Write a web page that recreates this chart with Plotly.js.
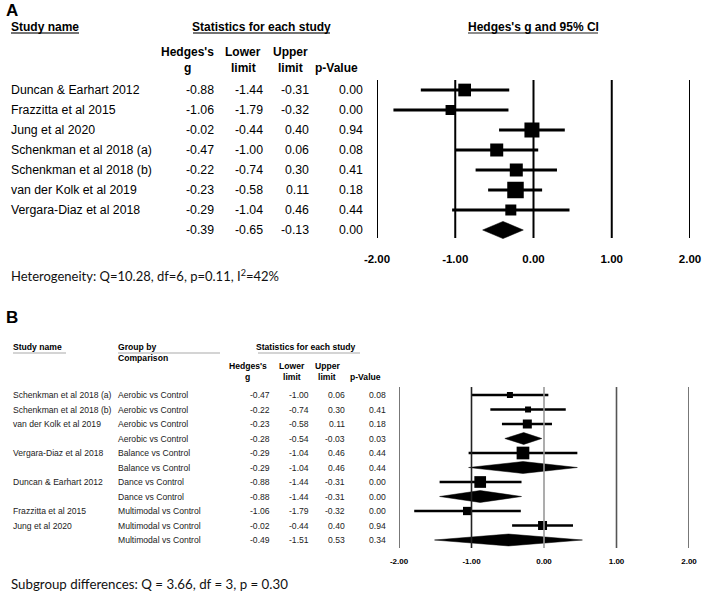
<!DOCTYPE html>
<html><head><meta charset="utf-8">
<script src="https://cdn.plot.ly/plotly-3.0.1.min.js"></script>
<style>html,body{margin:0;padding:0;background:#fff}#chart{width:705px;height:595px}</style>
</head><body><div id="chart"></div>
<script>
// ---------- Panel A data ----------
const studyA = ["Duncan & Earhart 2012","Frazzitta et al 2015","Jung et al 2020","Schenkman et al 2018 (a)","Schenkman et al 2018 (b)","van der Kolk et al 2019","Vergara-Diaz et al 2018"];
const gA   = [-0.88,-1.06,-0.02,-0.47,-0.22,-0.23,-0.29];
const lowA = [-1.44,-1.79,-0.44,-1.00,-0.74,-0.58,-1.04];
const upA  = [-0.31,-0.32, 0.40, 0.06, 0.30, 0.11, 0.46];
const pA   = [ 0.00, 0.00, 0.94, 0.08, 0.41, 0.18, 0.44];
const sumA = {g:-0.39, low:-0.65, up:-0.13, p:0.00};
const weightSizeA = [12.7,10,15,13,13,16.5,11];

// ---------- Panel B data ----------
const studyB = ["Schenkman et al 2018 (a)","Schenkman et al 2018 (b)","van der Kolk et al 2019","","Vergara-Diaz et al 2018","","Duncan & Earhart 2012","","Frazzitta et al 2015","Jung et al 2020",""];
const groupB = ["Aerobic vs Control","Aerobic vs Control","Aerobic vs Control","Aerobic vs Control","Balance vs Control","Balance vs Control","Dance vs Control","Dance vs Control","Multimodal vs Control","Multimodal vs Control","Multimodal vs Control"];
const gB   = [-0.47,-0.22,-0.23,-0.28,-0.29,-0.29,-0.88,-0.88,-1.06,-0.02,-0.49];
const lowB = [-1.00,-0.74,-0.58,-0.54,-1.04,-1.04,-1.44,-1.44,-1.79,-0.44,-1.51];
const upB  = [ 0.06, 0.30, 0.11,-0.03, 0.46, 0.46,-0.31,-0.31,-0.32, 0.40, 0.53];
const pB   = [ 0.08, 0.41, 0.18, 0.03, 0.44, 0.44, 0.00, 0.00, 0.00, 0.94, 0.34];
const weightSizeB = [6,6,9,0,12.7,0,11.7,0,8.3,9,0];

const tickVals = [-2,-1,0,1,2];
const tickText = ["-2.00","-1.00","0.00","1.00","2.00"];

// ---------- helpers ----------
const W = 705, H = 595;
const P = x => x / W;
const Q = y => 1 - y / H;
const f2 = v => v.toFixed(2);
const ARIAL = "Liberation Sans, Arial, sans-serif";
const CAL = "Lato, Open Sans, sans-serif";

const traces = [];
const shapes = [];
const ann = [];

function txt(x, y, text, opt) {
  opt = opt || {};
  ann.push({
    x: x, y: y, xref: opt.xref || "paper", yref: opt.yref || "paper",
    text: text, showarrow: false, xanchor: opt.xanchor || "left", yanchor: "middle",
    borderpad: 0, borderwidth: 0,
    font: {family: opt.family || ARIAL, size: opt.size || 12, color: opt.color || "#000", weight: opt.bold ? "bold" : "normal"}
  });
}
function hline(x0, x1, y, color, w) {
  shapes.push({type: "line", xref: "paper", yref: "paper", x0: P(x0), x1: P(x1), y0: Q(y), y1: Q(y), line: {color: color, width: w}});
}

// ---------- Panel A ----------
(function () {
  const xs = [], ys = [];
  gA.forEach((g, i) => { xs.push(lowA[i], upA[i], null); ys.push(i, i, null); });
  traces.push({x: xs, y: ys, xaxis: "x", yaxis: "y", mode: "lines", line: {color: "#000", width: 3}, hoverinfo: "skip"});
  traces.push({x: gA, y: gA.map((_, i) => i), xaxis: "x", yaxis: "y", mode: "markers",
    marker: {symbol: "square", size: weightSizeA, color: "#000", opacity: 1, line: {width: 0}}, hoverinfo: "skip"});
  const r = studyA.length, hh = 0.43;
  traces.push({x: [sumA.low, sumA.g, sumA.up, sumA.g, sumA.low], y: [r, r - hh, r, r + hh, r],
    xaxis: "x", yaxis: "y", mode: "lines", fill: "toself", fillcolor: "#000", line: {color: "#000", width: 0.5}, hoverinfo: "skip"});
  tickVals.forEach(t => shapes.push({type: "line", xref: "x", yref: "y", x0: t, x1: t, y0: -0.5, y1: 7.4, line: {color: "#000", width: 2}}));

  txt(P(6), Q(10), "A", {size: 17, bold: true});
  txt(P(11), Q(27), "Study name", {bold: true});
  hline(11, 79, 33, "#444", 1.5);
  txt(P(261.5), Q(27), "Statistics for each study", {bold: true, xanchor: "center"});
  hline(193, 330, 33, "#444", 1.5);
  txt(P(533), Q(27), "Hedges's g and 95% CI", {bold: true, xanchor: "center"});
  hline(468, 598, 33, "#666", 1.5);
  txt(P(187), Q(52), "Hedges's", {bold: true, xanchor: "center"});
  txt(P(187), Q(68), "g", {bold: true, xanchor: "center"});
  txt(P(243), Q(52), "Lower", {bold: true, xanchor: "center"});
  txt(P(243), Q(68), "limit", {bold: true, xanchor: "center"});
  txt(P(290), Q(52), "Upper", {bold: true, xanchor: "center"});
  txt(P(290), Q(68), "limit", {bold: true, xanchor: "center"});
  txt(P(336), Q(68), "p-Value", {bold: true, xanchor: "center"});
  const rowsG = gA.concat([sumA.g]), rowsL = lowA.concat([sumA.low]), rowsU = upA.concat([sumA.up]), rowsP = pA.concat([sumA.p]);
  rowsG.forEach((g, i) => {
    if (i < studyA.length) txt(P(11), i, studyA[i], {yref: "y", size: 12.3});
    txt(P(214), i, f2(g), {yref: "y", size: 12.3, xanchor: "right"});
    txt(P(263), i, f2(rowsL[i]), {yref: "y", size: 12.3, xanchor: "right"});
    txt(P(309), i, f2(rowsU[i]), {yref: "y", size: 12.3, xanchor: "right"});
    txt(P(363), i, f2(rowsP[i]), {yref: "y", size: 12.3, xanchor: "right"});
  });
  txt(P(11), Q(275), "Heterogeneity: Q=10.28, df=6, p=0.11, I<sup>2</sup>=42%", {family: CAL, size: 13, color: "#111"});
})();

// ---------- Panel B ----------
(function () {
  const xs = [], ys = [];
  const sx = [], sy = [], ss = [];
  gB.forEach((g, i) => {
    if (studyB[i] !== "") {
      xs.push(lowB[i], upB[i], null); ys.push(i, i, null);
      sx.push(g); sy.push(i); ss.push(weightSizeB[i]);
    }
  });
  traces.push({x: xs, y: ys, xaxis: "x2", yaxis: "y2", mode: "lines", line: {color: "#000", width: 2.5}, hoverinfo: "skip"});
  traces.push({x: sx, y: sy, xaxis: "x2", yaxis: "y2", mode: "markers",
    marker: {symbol: "square", size: ss, color: "#000", opacity: 1, line: {width: 0}}, hoverinfo: "skip"});
  const hh = 0.41;
  gB.forEach((g, i) => {
    if (studyB[i] === "") {
      traces.push({x: [lowB[i], g, upB[i], g, lowB[i]], y: [i, i - hh, i, i + hh, i],
        xaxis: "x2", yaxis: "y2", mode: "lines", fill: "toself", fillcolor: "#000", line: {color: "#000", width: 0.5}, hoverinfo: "skip"});
    }
  });
  tickVals.forEach(t => shapes.push({type: "line", xref: "x2", yref: "y2", x0: t, x1: t, y0: -0.55, y1: 10.55,
    line: {color: t === 0 ? "#999" : (t === -1 ? "#222" : "#555"), width: 1.6}}));

  const S = 8.6;
  txt(P(6), Q(317), "B", {size: 17, bold: true});
  txt(P(13), Q(347), "Study name", {bold: true, size: S});
  hline(13, 66, 353, "#aaa", 1.2);
  txt(P(118), Q(347), "Group by", {bold: true, size: S});
  txt(P(118), Q(358), "Comparison", {bold: true, size: S});
  hline(118, 220, 353, "#aaa", 1.2);
  txt(P(306), Q(347), "Statistics for each study", {bold: true, size: S, xanchor: "center"});
  hline(258, 360, 353, "#aaa", 1.2);
  txt(P(247.5), Q(366), "Hedges's", {bold: true, size: S, xanchor: "center"});
  txt(P(247.5), Q(377), "g", {bold: true, size: S, xanchor: "center"});
  txt(P(292), Q(366), "Lower", {bold: true, size: S, xanchor: "center"});
  txt(P(292), Q(377), "limit", {bold: true, size: S, xanchor: "center"});
  txt(P(327), Q(366), "Upper", {bold: true, size: S, xanchor: "center"});
  txt(P(327), Q(377), "limit", {bold: true, size: S, xanchor: "center"});
  txt(P(365), Q(377), "p-Value", {bold: true, size: S, xanchor: "center"});
  gB.forEach((g, i) => {
    if (studyB[i] !== "") txt(P(13), i, studyB[i], {yref: "y2", size: S, color: "#222"});
    txt(P(118), i, groupB[i], {yref: "y2", size: S, color: "#222"});
    txt(P(270), i, f2(g), {yref: "y2", size: S, xanchor: "right", color: "#222"});
    txt(P(309), i, f2(lowB[i]), {yref: "y2", size: S, xanchor: "right", color: "#222"});
    txt(P(345), i, f2(upB[i]), {yref: "y2", size: S, xanchor: "right", color: "#222"});
    txt(P(386), i, f2(pB[i]), {yref: "y2", size: S, xanchor: "right", color: "#222"});
  });
  txt(P(11), Q(584), "Subgroup differences: Q = 3.66, df = 3, p = 0.30", {family: CAL, size: 13.3, color: "#111"});
})();

const axBase = {showgrid: false, zeroline: false, showline: false, ticks: "", fixedrange: true};
const layout = {
  width: W, height: H, margin: {l: 0, r: 0, t: 0, b: 0},
  paper_bgcolor: "#fff", plot_bgcolor: "rgba(0,0,0,0)", showlegend: false,
  xaxis: Object.assign({}, axBase, {domain: [P(377), P(690)], range: [-2, 2], anchor: "y",
    tickvals: tickVals, ticktext: tickText, tickfont: {family: ARIAL, size: 11.5, color: "#000", weight: "bold"}}),
  yaxis: Object.assign({}, axBase, {domain: [Q(250), Q(80)], range: [8, -0.5], visible: false, anchor: "x"}),
  xaxis2: Object.assign({}, axBase, {domain: [P(399), P(689)], range: [-2, 2], anchor: "y2",
    tickvals: tickVals, ticktext: tickText, tickfont: {family: ARIAL, size: 8, color: "#000", weight: "bold"}}),
  yaxis2: Object.assign({}, axBase, {domain: [Q(555), Q(387)], range: [(555 - 395) / 14.5, -0.552], visible: false, anchor: "x2"}),
  shapes: shapes, annotations: ann
};
Plotly.newPlot("chart", traces, layout, {staticPlot: true, displayModeBar: false});
</script></body></html>
